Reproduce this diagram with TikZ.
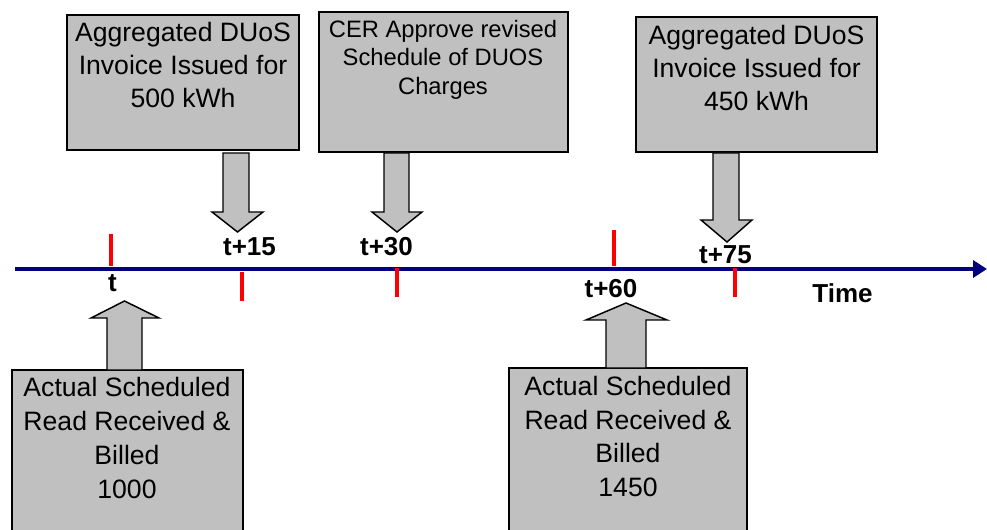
\documentclass[tikz,border=0pt]{standalone}
\usepackage{fontspec}
\setmainfont{Liberation Sans}
\usetikzlibrary{arrows.meta}
\definecolor{boxgray}{RGB}{192,192,192}
\definecolor{navyline}{RGB}{0,0,128}
\definecolor{tickred}{RGB}{255,0,0}
\begin{document}
\begin{tikzpicture}[x=0.75pt,y=-0.75pt,
  box/.style={draw=black, fill=boxgray, line width=1.5pt, rectangle, inner sep=0pt},
  boxtext/.style={align=center, anchor=base, inner sep=0pt, font=\fontsize{19.95pt}{24.75pt}\selectfont},
  boxtextlow/.style={align=center, anchor=base, inner sep=0pt, font=\fontsize{19.95pt}{25.3pt}\selectfont},
  boxtextsmall/.style={align=center, anchor=base, inner sep=0pt, font=\fontsize{17.8pt}{21.4pt}\selectfont},
  blockarrow/.style={draw=black, fill=boxgray, line width=1.1pt, line join=miter},
  timeline/.style={draw=navyline, line width=3.4pt, -{Triangle[length=10.5pt, width=12.75pt]}},
  tick/.style={draw=tickred, line width=2.4pt},
  timelabel/.style={anchor=base, inner sep=0pt, font=\bfseries\fontsize{19.5pt}{23pt}\selectfont}]
\useasboundingbox (0,0) rectangle (987,530);
\clip (0,0) rectangle (987,530);

% timeline
\coordinate (tl0) at (15,269);
\coordinate (tl1) at (987,269);
\draw[timeline] (tl0) -- (tl1);

% ticks
\draw[tick] (111,234) -- (111,266);
\draw[tick] (242,272) -- (242,301);
\draw[tick] (397,268) -- (397,297);
\draw[tick] (614,230) -- (614,266);
\draw[tick] (735,268) -- (735,297);

% time labels
\node[timelabel] (lt)   at (112.5,292) {t};
\node[timelabel] (lt15) at (249.5,256) {t+15};
\node[timelabel] (lt30) at (386.5,256) {t+30};
\node[timelabel] (lt60) at (611,298) {t+60};
\node[timelabel] (lt75) at (725.5,264) {t+75};
\node[timelabel] (ltime) at (842.5,303) {Time};

% top boxes (text anchored at the baseline of its last line)
\node[box, minimum width=174pt, minimum height=101.25pt] (b1) at (183,82.5) {};
\node[boxtext] (b1t) at (183,108) {Aggregated DUoS\\Invoice Issued for\\500 kWh};

\node[box, minimum width=186.75pt, minimum height=105pt] (b2) at (443.5,82) {};
\node[boxtextsmall] (b2t) at (443,94.3) {CER Approve revised\\Schedule of DUOS\\Charges};

\node[box, minimum width=180.75pt, minimum height=101.25pt] (b3) at (756.5,84.5) {};
\node[boxtext] (b3t) at (756.5,110.3) {Aggregated DUoS\\Invoice Issued for\\450 kWh};

% bottom boxes
\node[box, minimum width=173.25pt, minimum height=142.5pt] (b4) at (127.5,465) {};
\node[boxtextlow] (b4t) at (127,498) {Actual Scheduled\\Read Received \&\\Billed\\1000};

\node[box, minimum width=178.5pt, minimum height=144pt] (b5) at (628,464) {};
\node[boxtextlow] (b5t) at (628,496.7) {Actual Scheduled\\Read Received \&\\Billed\\1450};

% block arrows (down)
\path[blockarrow] (223,153) -- (249,153) -- (249,212) -- (263,212) -- (237.5,232) -- (212,212) -- (223,212) -- cycle;
\path[blockarrow] (384,153) -- (409,153) -- (409,212) -- (422,212) -- (397,232) -- (372,212) -- (384,212) -- cycle;
\path[blockarrow] (713,153) -- (739,153) -- (739,220) -- (752,220) -- (727,242) -- (701,220) -- (713,220) -- cycle;

% block arrows (up)
\path[blockarrow] (107,370) -- (142,370) -- (142,318) -- (159,318) -- (124.5,301) -- (91,318) -- (107,318) -- cycle;
\path[blockarrow] (606,368) -- (646,368) -- (646,320) -- (667,320) -- (626,303) -- (586,320) -- (606,320) -- cycle;
\end{tikzpicture}
\end{document}
